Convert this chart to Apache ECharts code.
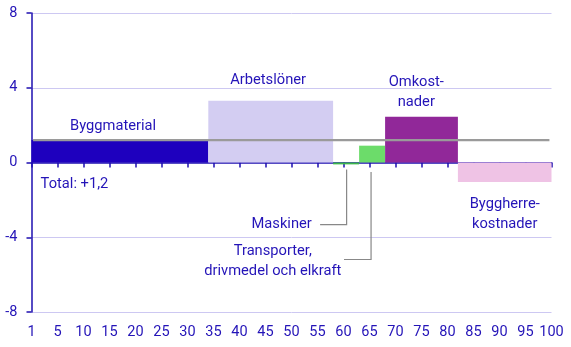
<!DOCTYPE html>
<html>
<head>
<meta charset="utf-8">
<script src="https://cdn.jsdelivr.net/npm/echarts@6/dist/echarts.min.js"></script>
<style>
  html, body { margin: 0; padding: 0; background: #fff; }
  #chart { width: 571px; height: 347px; }
</style>
</head>
<body>
<div id="chart"></div>
<script>
// Cost groups: weight (bar width, share of 100) and change (bar height, %)
const groups = ['Byggmaterial', 'Arbetslöner', 'Maskiner', 'Transporter', 'Omkostnader', 'Byggherrekostnader'];
const weights = [34, 24, 5, 5, 14, 18];
const changes = [1.2, 3.3, -0.1, 0.9, 2.45, -1.05];
const total = 1.2;
const totalText = 'Total: +1,2';

// x tick labels (0 position shown as 1)
const xTicks = [1, 5, 10, 15, 20, 25, 30, 35, 40, 45, 50, 55, 60, 65, 70, 75, 80, 85, 90, 95, 100];
const yTicks = [-8, -4, 0, 4, 8];

const barColors = ['#1e00be', '#d3cdf2', '#3bb54a', '#6cdc6a', '#912899', '#efc3e5'];
const textColor = '#2414b8';
const axisColor = '#1e0fb0';
const gridColor = '#cdc8f2';
const font = 'Roboto, "Noto Sans", sans-serif';

// Cumulative bar extents
const rects = [];
let acc = 0;
weights.forEach((w, i) => {
  rects.push([acc, acc + w, changes[i], i]);
  acc += w;
});

// Text annotations placed in data coordinates
const notes = [
  { text: 'Byggmaterial', at: [15.7, 1.93], align: 'center' },
  { text: 'Arbetslöner', at: [45.5, 4.4], align: 'center' },
  { text: 'Omkost-\nnader', at: [74, 3.73], align: 'center' },
  { text: 'Byggherre-\nkostnader', at: [91, -2.78], align: 'center' },
  { text: totalText, at: [1.75, -1.18], align: 'left' },
  { text: 'Maskiner', at: [53.9, -3.32], align: 'right' },
  { text: 'Transporter,\ndrivmedel och elkraft', at: [46.4, -5.28], align: 'center' }
];

// Leader lines from labels to the narrow bars
const leaders = [
  [[55.5, -3.32], [60.6, -3.32], [60.6, -0.37]],
  [[60.1, -5.19], [65.3, -5.19], [65.3, -0.51]]
];

const chart = echarts.init(document.getElementById('chart'), null, { renderer: 'canvas' });

const xCommon = { type: 'value', min: 0, max: 100, interval: 5 };

chart.setOption({
  animation: false,
  grid: { left: 31.5, right: 19.5, top: 13, bottom: 35 },
  xAxis: [
    Object.assign({}, xCommon, {
      axisLine: { onZero: true, lineStyle: { color: axisColor, width: 1.5 } },
      axisTick: { show: true, length: 5, lineStyle: { color: axisColor, width: 1.5 } },
      axisLabel: { show: false },
      splitLine: { show: false }
    }),
    Object.assign({}, xCommon, {
      position: 'bottom',
      axisLine: { show: false, onZero: false },
      axisTick: { show: false },
      splitLine: { show: false },
      axisLabel: {
        margin: 13,
        color: textColor, fontFamily: font, fontSize: 14.5,
        formatter: v => (v === 0 ? String(xTicks[0]) : String(v))
      }
    })
  ],
  yAxis: {
    type: 'value', min: yTicks[0], max: yTicks[yTicks.length - 1], interval: 4,
    axisLine: { show: true, onZero: false, lineStyle: { color: axisColor, width: 1.5 } },
    axisTick: { show: true, length: 5, lineStyle: { color: axisColor, width: 1.5 } },
    axisLabel: { margin: 14, color: textColor, fontFamily: font, fontSize: 14.5 },
    splitLine: { show: true, lineStyle: { color: gridColor, width: 1 } }
  },
  series: [
    {
      type: 'custom',
      xAxisIndex: 0,
      data: rects,
      z: 2,
      renderItem: (params, api) => {
        const x0 = api.value(0), x1 = api.value(1), v = api.value(2), idx = api.value(3);
        const p0 = api.coord([x0, Math.max(v, 0)]);
        const p1 = api.coord([x1, Math.min(v, 0)]);
        let h = p1[1] - p0[1];
        return {
          type: 'rect',
          shape: { x: p0[0], y: p0[1], width: p1[0] - p0[0], height: Math.max(h, 1) },
          style: { fill: barColors[idx] }
        };
      }
    },
    {
      type: 'line',
      xAxisIndex: 0,
      data: [[0.3, total], [99.6, total]],
      symbol: 'none',
      z: 4,
      lineStyle: { color: '#9a9a9a', width: 2.2 }
    },
    {
      type: 'custom',
      xAxisIndex: 0,
      data: leaders.map((l, i) => [i]),
      z: 3,
      renderItem: (params, api) => {
        const pts = leaders[api.value(0)].map(p => api.coord(p));
        return {
          type: 'polyline',
          shape: { points: pts },
          style: { stroke: '#888888', lineWidth: 1.2, fill: null }
        };
      }
    },
    {
      type: 'custom',
      xAxisIndex: 0,
      data: notes.map((n, i) => [i]),
      z: 5,
      renderItem: (params, api) => {
        const n = notes[api.value(0)];
        const p = api.coord(n.at);
        return {
          type: 'text',
          x: p[0], y: p[1],
          style: {
            text: n.text,
            fill: textColor,
            font: '14.7px ' + font,
            align: n.align,
            verticalAlign: 'middle',
            lineHeight: 20
          }
        };
      }
    }
  ]
});
</script>
</body>
</html>
